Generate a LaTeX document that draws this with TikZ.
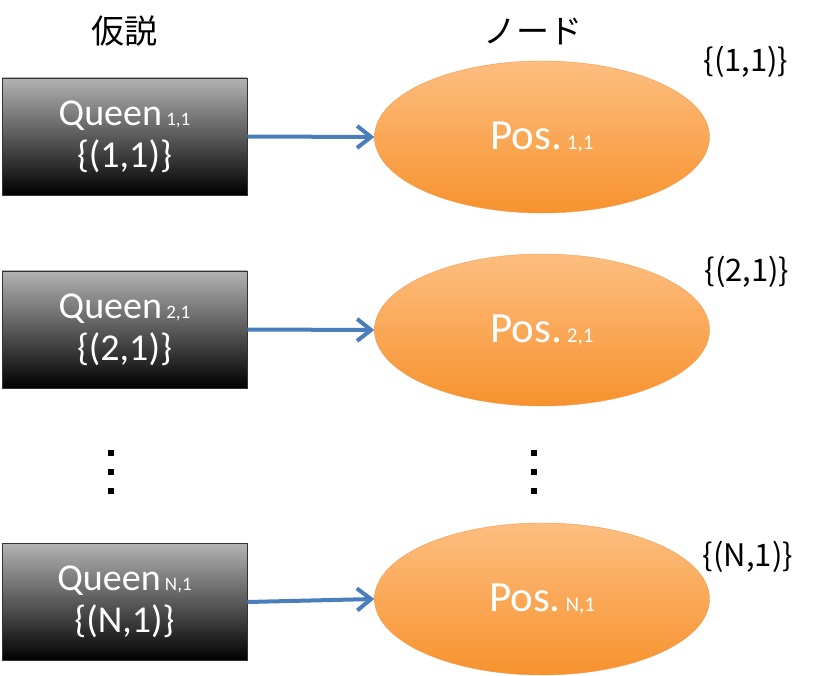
\documentclass[tikz,border=0pt]{standalone}
\usepackage{fontspec}
\setmainfont{Carlito}
\newfontfamily\jpfont{Noto Sans CJK JP}
\usetikzlibrary{shapes.geometric,arrows.meta}
\definecolor{arrowblue}{HTML}{4A7EBB}
\definecolor{nodetop}{HTML}{FDBE80}
\definecolor{nodebot}{HTML}{F7922E}
\definecolor{nodeedge}{HTML}{F79646}
\tikzset{
  queenbox/.style={rectangle, draw=black!80, thick, top color=black!30, bottom color=black,
    minimum width=245pt, minimum height=117pt, inner sep=0pt, text=white, align=center,
    font=\fontsize{38}{42}\selectfont},
  posnode/.style={ellipse, draw=nodeedge, top color=nodetop, bottom color=nodebot,
    minimum width=335pt, minimum height=152pt, inner sep=0pt, text=white,
    font=\fontsize{43}{44}\selectfont},
  setlabel/.style={font=\jpfont\fontsize{31}{32}\selectfont},
  header/.style={font=\jpfont\fontsize{33}{34}\selectfont},
  link/.style={arrowblue, line width=4pt, -{Straight Barb[length=14pt,width=22pt]}}
}
\newcommand{\sub}[1]{{\fontsize{19}{19}\selectfont\ #1}}
\newcommand{\subp}[1]{{\fontsize{21}{21}\selectfont\ #1}}
\begin{document}
\begin{tikzpicture}[x=1pt,y=-1pt]
    \useasboundingbox (0,0) rectangle (825,676);
    % Titres
    \node[header] (hq) at (124,31) {仮説};
    \node[header] (hp) at (533,32) {ノード};
    % Hypotheses
    \node[queenbox] (q1) at (124.5,136.5) {Queen\sub{1,1}\\\{(1,1)\}};
    \node[queenbox] (q2) at (124.5,329.5) {Queen\sub{2,1}\\\{(2,1)\}};
    \node[queenbox] (qN) at (124.5,602) {Queen\sub{N,1}\\\{(N,1)\}};
    % Noeuds
    \node[posnode] (p1) at (542,137) {Pos.\subp{1,1}};
    \node[posnode] (p2) at (542,330) {Pos.\subp{2,1}};
    \node[posnode] (pN) at (542,599) {Pos.\subp{N,1}};
    % Ensembles
    \node[setlabel] (s1) at (746,62) {\{(1,1)\}};
    \node[setlabel] (s2) at (747,272) {\{(2,1)\}};
    \node[setlabel] (sN) at (748,557) {\{(N,1)\}};
    % Fleches
    \draw[link] (q1.east) -- (p1.west);
    \draw[link] (q2.east) -- (p2.west);
    \draw[link] (qN.east) -- (pN.west);
    % Points
    \foreach \y in {453,472,491}{
        \fill (108,\y-3) rectangle (114,\y+3);
        \fill (531,\y-3) rectangle (537,\y+3);
    }
\end{tikzpicture}
\end{document}
